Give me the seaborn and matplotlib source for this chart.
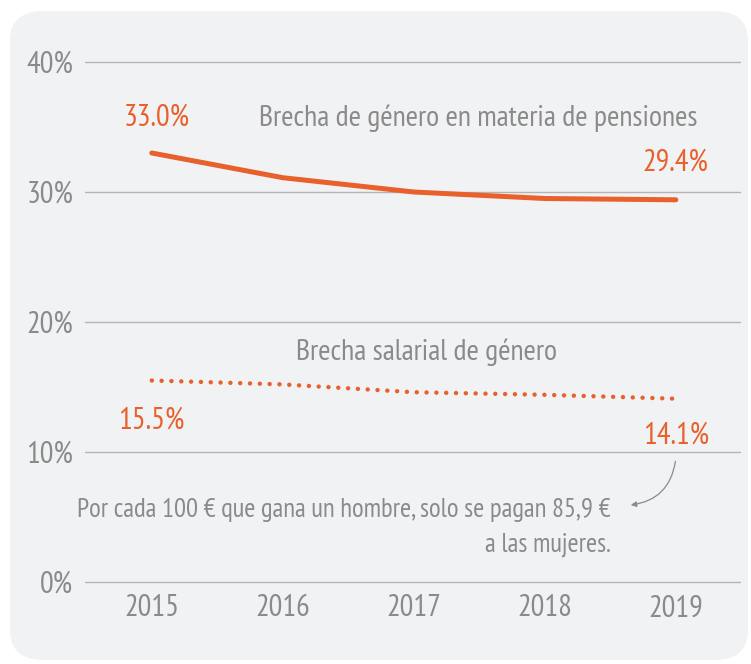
import pandas as pd
import matplotlib.pyplot as plt
import seaborn as sns
from matplotlib.patches import FancyBboxPatch

# Data
years = ["2015", "2016", "2017", "2018", "2019"]
pension_gap = [33.0, 31.1, 30.0, 29.5, 29.4]
wage_gap = [15.5, 15.2, 14.6, 14.4, 14.1]
y_ticks = [0, 10, 20, 30, 40]

ORANGE = "#e8602c"
GREY = "#8a8a8a"
GRID = "#b4b4b4"
PANEL = "#f1f2f4"

sns.set_theme(style="white")
plt.rcParams['font.family'] = ['PT Sans Narrow', 'DejaVu Sans']

df = pd.DataFrame({"idx": range(len(years)), "year": years,
                   "pension": pension_gap, "wage": wage_gap})

fig = plt.figure(figsize=(7.51, 6.64), dpi=100)
fig.patch.set_facecolor("white")

# rounded light-grey panel behind the chart
panel = FancyBboxPatch((10 / 751, 4 / 664), 738 / 751, 649 / 664,
                       boxstyle="round,pad=0,rounding_size=0.045",
                       transform=fig.transFigure, facecolor=PANEL,
                       edgecolor="none", zorder=-5)
fig.patches.append(panel)

ax = fig.add_axes([85 / 751, 82 / 664, 655 / 751, 520 / 664])
ax.set_facecolor("none")
ax.set_zorder(2)

sns.lineplot(data=df, x="idx", y="pension", ax=ax, color=ORANGE,
             linewidth=3.6, solid_capstyle="round")
sns.lineplot(data=df, x="idx", y="wage", ax=ax, color=ORANGE,
             linewidth=3.2, linestyle=(0, (0.01, 2.2)), dash_capstyle="round")

ax.set_xlim(-0.51, 4.49)
ax.set_ylim(0, 40)
ax.set_yticks(y_ticks)
ax.set_yticklabels([f"{t}%" for t in y_ticks])
ax.set_xticks(df["idx"])
ax.set_xticklabels(years)
ax.tick_params(axis="both", length=0, labelsize=22, labelcolor=GREY)
ax.tick_params(axis="y", pad=8.5)
ax.tick_params(axis="x", pad=9)
for t in y_ticks:
    ax.axhline(t, color=GRID, linewidth=1.0, zorder=0, clip_on=False)
for s in ax.spines.values():
    s.set_visible(False)
ax.set_xlabel("")
ax.set_ylabel("")

# value labels
ax.text(df["idx"][0] + 0.04, pension_gap[0] + 2.7, f"{pension_gap[0]:.1f}%",
        color=ORANGE, fontsize=22, ha="center", va="center")
ax.text(df["idx"][4], pension_gap[4] + 2.9, f"{pension_gap[4]:.1f}%",
        color=ORANGE, fontsize=22, ha="center", va="center")
ax.text(df["idx"][0], wage_gap[0] - 3.1, f"{wage_gap[0]:.1f}%",
        color=ORANGE, fontsize=22, ha="center", va="center")
ax.text(df["idx"][4], wage_gap[4] - 2.8, f"{wage_gap[4]:.1f}%",
        color=ORANGE, fontsize=22, ha="center", va="center")

# series labels
ax.text(2.49, 35.7, "Brecha de género en materia de pensiones",
        color=GREY, fontsize=21.5, ha="center", va="center")
ax.text(2.1, 17.7, "Brecha salarial de género",
        color=GREY, fontsize=21.5, ha="center", va="center")

# note with arrow
ax.text(3.505, 4.2, "Por cada 100 € que gana un hombre, solo se pagan 85,9 €\na las mujeres.",
        color=GREY, fontsize=19.3, ha="right", va="center", linespacing=1.55)
ax.annotate("", xy=(3.635, 5.9), xytext=(4.0, 9.5),
            arrowprops=dict(arrowstyle="-|>", color=GREY, lw=0.9,
                            connectionstyle="arc3,rad=-0.4", mutation_scale=8))

fig.savefig("out.png", dpi=100)
